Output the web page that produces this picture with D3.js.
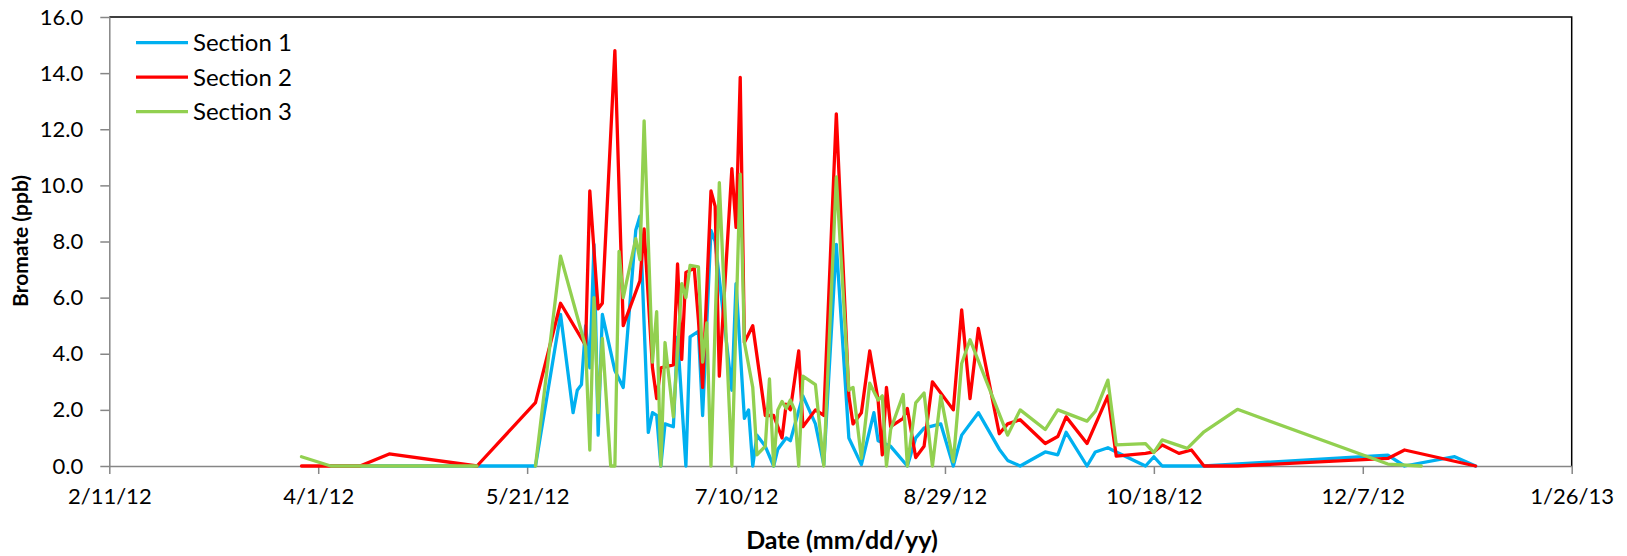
<!DOCTYPE html>
<html>
<head>
<meta charset="utf-8">
<script src="https://cdn.jsdelivr.net/npm/d3@7"></script>
<style>
  body { margin: 0; background: #fff; }
  text { font-family: Lato, "Open Sans", sans-serif; fill: #000; }
</style>
</head>
<body>
<svg id="chart" width="1627" height="556"></svg>
<script>
// Bromate readings per section, [date, ppb]; null marks a break in the line.
var section1 = [
    ["4/4/12", 0], ["4/11/12", 0], ["5/9/12", 0], ["5/23/12", 0], ["5/29/12", 5.4],
    ["6/1/12", 1.9], ["6/2/12", 2.7], ["6/3/12", 2.9], ["6/4/12", 5.0], ["6/5/12", 3.5],
    ["6/6/12", 7.9], ["6/7/12", 1.1], ["6/8/12", 5.4], ["6/11/12", 3.4], ["6/13/12", 2.8],
    ["6/16/12", 8.4], ["6/17/12", 8.9], ["6/19/12", 1.2], ["6/20/12", 1.9], ["6/21/12", 1.8],
    ["6/22/12", 0], ["6/23/12", 1.5], ["6/25/12", 1.4], ["6/26/12", 4.6], ["6/28/12", 0],
    ["6/29/12", 4.6], ["7/1/12", 4.8], ["7/2/12", 1.8], ["7/4/12", 8.4], ["7/5/12", 8.0],
    ["7/9/12", 2.7], ["7/10/12", 6.5], ["7/12/12", 1.7], ["7/13/12", 2.0], ["7/14/12", 0],
    ["7/15/12", 1.1], ["7/17/12", 0.7], ["7/19/12", 0], ["7/20/12", 0.6], ["7/22/12", 1.0],
    ["7/23/12", 0.9], ["7/26/12", 2.5], ["7/29/12", 1.5], ["7/31/12", 0.05], ["8/3/12", 7.9],
    ["8/6/12", 1.0], ["8/9/12", 0.05], ["8/12/12", 1.9], ["8/13/12", 0.9], ["8/16/12", 0.7],
    ["8/20/12", 0], ["8/22/12", 1.0], ["8/24/12", 1.35], ["8/28/12", 1.5], ["8/31/12", 0],
    ["9/2/12", 1.1], ["9/6/12", 1.9], ["9/11/12", 0.6], ["9/13/12", 0.2], ["9/16/12", 0],
    ["9/22/12", 0.5], ["9/25/12", 0.4], ["9/27/12", 1.2], ["10/2/12", 0], ["10/4/12", 0.5],
    ["10/7/12", 0.65], ["10/9/12", 0.5], ["10/16/12", 0], ["10/18/12", 0.33], ["10/20/12", 0],
    ["10/30/12", 0], ["12/13/12", 0.39], ["12/17/12", 0], ["12/29/12", 0.33], ["1/3/13", 0]
];

var section2 = [
    ["3/28/12", 0], ["4/4/12", 0], ["4/11/12", 0], ["4/18/12", 0.43], ["5/9/12", 0],
    ["5/23/12", 2.26], ["5/29/12", 5.8], ["6/4/12", 4.3], ["6/5/12", 9.8], ["6/7/12", 5.6],
    ["6/8/12", 5.8], ["6/11/12", 14.8], ["6/13/12", 5.0], ["6/17/12", 6.6], ["6/18/12", 8.45],
    ["6/20/12", 3.5], ["6/21/12", 2.4], ["6/22/12", 3.5], ["6/25/12", 3.6], ["6/26/12", 7.2],
    ["6/27/12", 3.8], ["6/28/12", 6.9], ["6/30/12", 7.05], ["7/1/12", 5.2], ["7/2/12", 2.8],
    ["7/4/12", 9.8], ["7/5/12", 9.25], ["7/6/12", 3.2], ["7/9/12", 10.6], ["7/10/12", 8.5],
    ["7/11/12", 13.85], ["7/12/12", 4.4], ["7/14/12", 5.0], ["7/17/12", 1.8], ["7/19/12", 1.8],
    ["7/21/12", 1.0], ["7/22/12", 2.2], ["7/23/12", 2.0], ["7/25/12", 4.1], ["7/26/12", 1.4],
    ["7/29/12", 2.0], ["7/31/12", 1.8], ["8/3/12", 12.55], ["8/6/12", 2.5], ["8/7/12", 1.5],
    ["8/9/12", 1.9], ["8/11/12", 4.1], ["8/13/12", 2.35], ["8/14/12", 0.4], ["8/15/12", 2.8],
    ["8/16/12", 1.4], ["8/19/12", 1.7], ["8/20/12", 2.05], ["8/22/12", 0.3], ["8/24/12", 0.7],
    ["8/26/12", 3.0], ["8/31/12", 2.0], ["9/2/12", 5.56], ["9/4/12", 2.4], ["9/6/12", 4.9],
    ["9/11/12", 1.15], ["9/13/12", 1.5], ["9/16/12", 1.65], ["9/22/12", 0.8], ["9/25/12", 1.05],
    ["9/27/12", 1.75], ["10/2/12", 0.8], ["10/7/12", 2.5], ["10/9/12", 0.35], ["10/16/12", 0.45],
    ["10/18/12", 0.5], ["10/20/12", 0.75], ["10/24/12", 0.45], ["10/27/12", 0.57], ["10/30/12", 0],
    ["11/7/12", 0], ["12/13/12", 0.27], ["12/17/12", 0.57], ["1/3/13", 0]
];

var section3 = [
    ["3/28/12", 0.33], ["4/4/12", 0], ["4/11/12", 0], ["5/9/12", 0], ["5/16/12", null],
    ["5/23/12", 0], ["5/29/12", 7.48], ["6/4/12", 4.25], ["6/5/12", 0.57], ["6/6/12", 6.0],
    ["6/7/12", 1.9], ["6/8/12", 4.55], ["6/10/12", 0], ["6/11/12", 0], ["6/12/12", 7.65],
    ["6/13/12", 6.0], ["6/16/12", 8.1], ["6/17/12", 7.35], ["6/18/12", 12.3], ["6/20/12", 3.7],
    ["6/21/12", 5.5], ["6/22/12", 0], ["6/23/12", 4.4], ["6/25/12", 1.75], ["6/27/12", 6.5],
    ["6/28/12", 6.0], ["6/29/12", 7.15], ["7/1/12", 7.1], ["7/2/12", 3.7], ["7/3/12", 5.1],
    ["7/4/12", 0], ["7/6/12", 10.1], ["7/9/12", 0], ["7/11/12", 10.4], ["7/12/12", 4.4],
    ["7/14/12", 2.8], ["7/15/12", 0.4], ["7/17/12", 0.7], ["7/18/12", 3.1], ["7/19/12", 0],
    ["7/20/12", 2.0], ["7/21/12", 2.3], ["7/22/12", 2.05], ["7/23/12", 2.35], ["7/24/12", 2.0],
    ["7/25/12", 0], ["7/26/12", 3.2], ["7/29/12", 2.9], ["7/31/12", 0], ["8/3/12", 10.3],
    ["8/6/12", 2.7], ["8/7/12", 2.8], ["8/9/12", 0.27], ["8/11/12", 2.95], ["8/13/12", 2.35],
    ["8/14/12", 2.5], ["8/15/12", 0], ["8/16/12", 1.3], ["8/19/12", 2.55], ["8/20/12", 0],
    ["8/22/12", 2.25], ["8/24/12", 2.6], ["8/26/12", 0], ["8/28/12", 2.5], ["8/31/12", 0.15],
    ["9/2/12", 3.65], ["9/4/12", 4.5], ["9/13/12", 1.1], ["9/16/12", 2.0], ["9/22/12", 1.3],
    ["9/25/12", 2.0], ["10/2/12", 1.6], ["10/4/12", 1.95], ["10/7/12", 3.06], ["10/9/12", 0.75],
    ["10/16/12", 0.8], ["10/18/12", 0.48], ["10/20/12", 0.93], ["10/26/12", 0.63], ["10/30/12", 1.22],
    ["11/7/12", 2.02], ["12/13/12", 0.07], ["12/21/12", 0]
];

var seriesNames = ["Section 1", "Section 2", "Section 3"];
var seriesColors = ["#00B0F0", "#FF0000", "#92D050"];
var yTicks = [0, 2, 4, 6, 8, 10, 12, 14, 16];
var xTickLabels = ["2/11/12", "4/1/12", "5/21/12", "7/10/12", "8/29/12", "10/18/12", "12/7/12", "1/26/13"];

function drawChart() {
    var parse = d3.utcParse("%m/%d/%y");
    var svg = d3.select("#chart");

    // Plot area edges.
    var plotLeft = 109.3, plotRight = 1571.7, plotTop = 17, plotBottom = 466;

    var x = d3.scaleUtc()
        .domain([parse(xTickLabels[0]), parse(xTickLabels[xTickLabels.length - 1])])
        .range([plotLeft, plotRight]);
    var y = d3.scaleLinear().domain([0, 16]).range([plotBottom, plotTop]);

    // Black frame on top and right.
    svg.append("path")
        .attr("d", "M" + plotLeft + "," + plotTop + "H" + plotRight + "V" + plotBottom)
        .attr("fill", "none")
        .attr("stroke", "#000")
        .attr("stroke-width", 1.5);

    var yAxis = svg.append("g")
        .attr("transform", "translate(" + plotLeft + ",0)")
        .call(d3.axisLeft(y).tickValues(yTicks).tickFormat(d3.format(".1f"))
            .tickSize(9).tickPadding(17).tickSizeOuter(0));

    var xAxis = svg.append("g")
        .attr("transform", "translate(0," + plotBottom + ")")
        .call(d3.axisBottom(x).tickValues(xTickLabels.map(parse))
            .tickFormat(d3.utcFormat("%-m/%-d/%y")).tickSize(8).tickPadding(14).tickSizeOuter(0));

    [yAxis, xAxis].forEach(function(ax) {
        ax.select(".domain").attr("stroke", "#868686").attr("stroke-width", 1.5);
        ax.selectAll(".tick line").attr("stroke", "#868686").attr("stroke-width", 1.5);
        ax.selectAll(".tick text").attr("font-size", 22).attr("font-family", "Lato");
    });

    // Axis titles.
    svg.append("text")
        .attr("transform", "translate(28,241) rotate(-90)")
        .attr("text-anchor", "middle")
        .attr("font-size", 21)
        .attr("font-weight", "bold")
        .text("Bromate (ppb)");

    svg.append("text")
        .attr("x", 842)
        .attr("y", 549)
        .attr("text-anchor", "middle")
        .attr("font-size", 25)
        .attr("font-weight", "bold")
        .text("Date (mm/dd/yy)");

    // Series lines.
    var line = d3.line()
        .defined(function(d) { return d[1] !== null; })
        .x(function(d) { return x(parse(d[0])); })
        .y(function(d) { return y(d[1]); });

    [section1, section2, section3].forEach(function(s, i) {
        svg.append("path")
            .datum(s)
            .attr("d", line)
            .attr("fill", "none")
            .attr("stroke", seriesColors[i])
            .attr("stroke-width", 3.3)
            .attr("stroke-linejoin", "round")
            .attr("stroke-linecap", "round");
    });

    // Legend.
    var legend = svg.append("g");
    seriesNames.forEach(function(name, i) {
        var ly = 42.7 + i * 34.5;
        legend.append("line")
            .attr("x1", 136).attr("x2", 188)
            .attr("y1", ly).attr("y2", ly)
            .attr("stroke", seriesColors[i])
            .attr("stroke-width", 3.3);
        legend.append("text")
            .attr("x", 193)
            .attr("y", ly)
            .attr("dy", "0.35em")
            .attr("font-size", 24)
            .text(name);
    });
}

drawChart();
</script>
</body>
</html>
